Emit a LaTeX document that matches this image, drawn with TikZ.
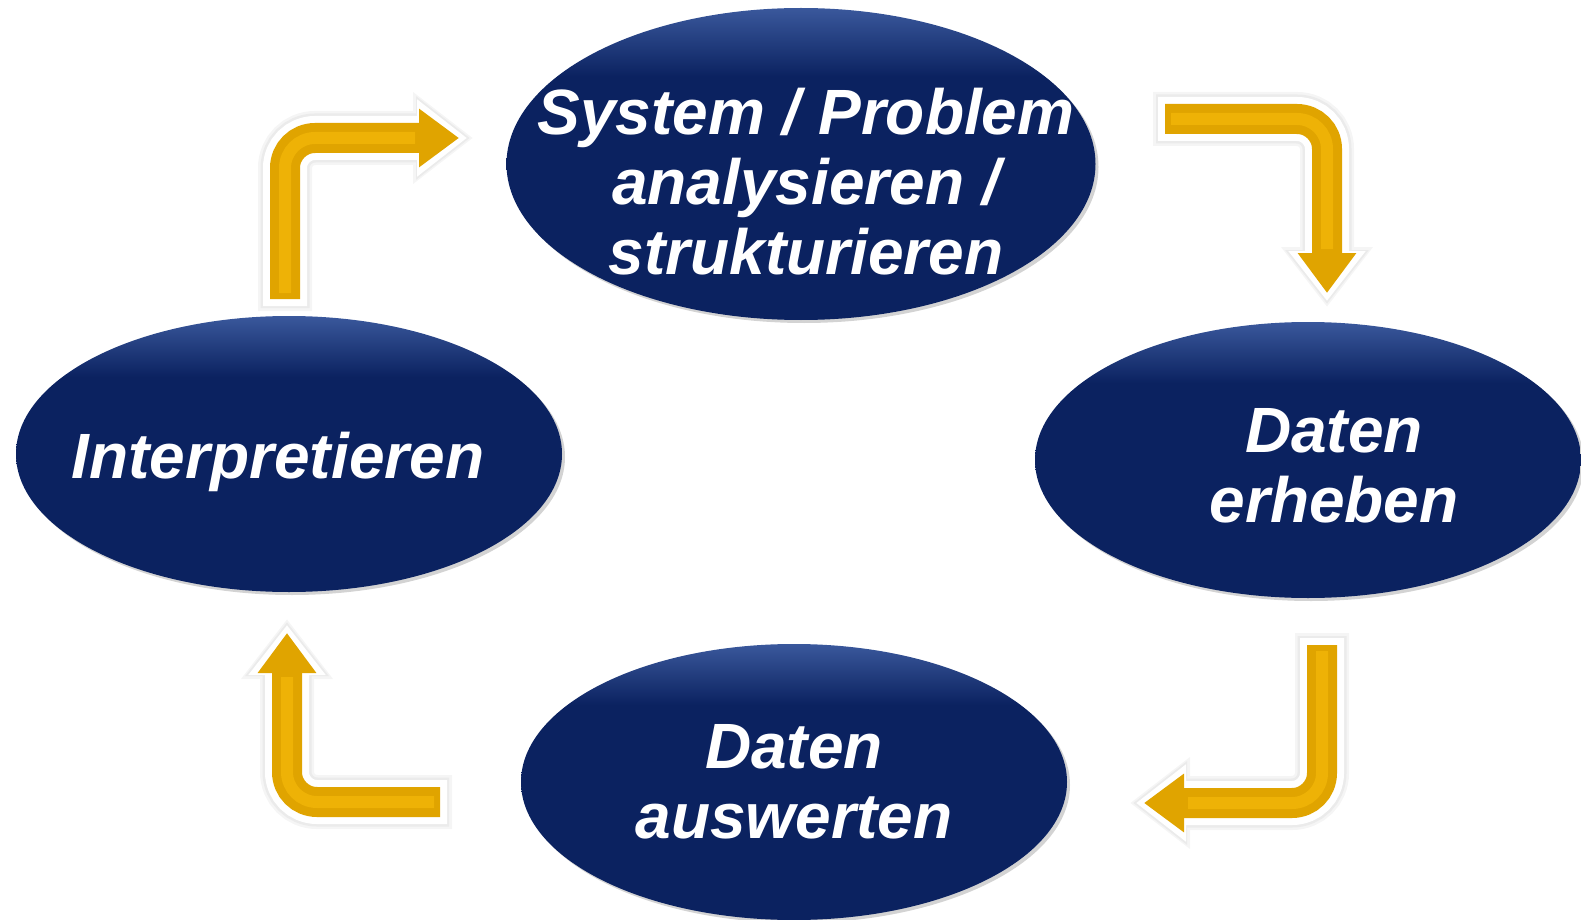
\documentclass[tikz,border=0pt]{standalone}
\usepackage{fontspec}
\setmainfont{Liberation Sans}
\usetikzlibrary{shapes.geometric,arrows.meta,shadows}

\definecolor{navy}{RGB}{11,34,96}
\definecolor{navyhi}{RGB}{58,88,156}
\definecolor{gold}{RGB}{224,164,0}
\definecolor{goldhi}{RGB}{238,178,6}

% mostly flat navy, lighter only near the top rim
\pgfdeclareverticalshading{phaseshade}{100bp}{color(0bp)=(navy); color(25bp)=(navy);
  color(64bp)=(navy); color(75bp)=(navyhi); color(100bp)=(navyhi)}

\tikzset{
  phase/.style={ellipse, inner sep=0pt, minimum width=273pt, minimum height=138pt,
    shading=phaseshade,
    drop shadow={opacity=0.35, shadow xshift=1.5pt, shadow yshift=-1.5pt}},
  phasetext/.style={text=white, align=center, inner sep=0pt,
    font=\fontsize{32}{35}\selectfont\bfseries\itshape},
  cyclearrow/.style={draw=gold, line width=15pt, rounded corners=15pt,
    -{Triangle[width=28pt,length=20pt]},
    preaction={draw=black!4, line width=27pt, shorten <=-6pt, shorten >=-7pt,
      -{Triangle[width=44pt,length=30pt]}},
    preaction={draw=black!8, line width=24.5pt, shorten <=-4.5pt, shorten >=-5.5pt,
      -{Triangle[width=40pt,length=27pt]}},
    preaction={draw=white, line width=22pt, shorten <=-3.5pt, shorten >=-4pt,
      -{Triangle[width=37pt,length=25pt]}},
    postaction={draw=goldhi, line width=6pt, -, shorten <=3pt, shorten >=22pt}}
}

\begin{document}
\begin{tikzpicture}[x=0.5pt,y=-0.5pt]
  \useasboundingbox (0,0) rectangle (1581,920);

  % the four steps of the cycle
  \node[phase, minimum width=294.5pt, minimum height=156pt] (analyse) at (801,164) {};
  \node[phase] (erheben) at (1308,460) {};
  \node[phase] (auswerten) at (794,782) {};
  \node[phase] (interpret) at (289,454) {};

  \node[phasetext] (analysetext) at (806,182) {System / Problem\\analysieren /\\strukturieren};
  \node[phasetext] (erhebentext) at (1334,466) {Daten\\erheben};
  \node[phasetext] (auswertentext) at (794,782) {Daten\\auswerten};
  \node[phasetext] (interprettext) at (278,462) {Interpretieren};

  % elbow arrows between the steps
  \coordinate (a0) at (285,299);  \coordinate (a1) at (285,138);  \coordinate (a2) at (459,138);
  \coordinate (b0) at (1165,119); \coordinate (b1) at (1327,119); \coordinate (b2) at (1327,293);
  \coordinate (c0) at (1322,645); \coordinate (c1) at (1322,803); \coordinate (c2) at (1144,803);
  \coordinate (d0) at (440,802);  \coordinate (d1) at (287,802);  \coordinate (d2) at (287,633);

  \draw[cyclearrow] (a0) -- (a1) -- (a2);
  \draw[cyclearrow] (b0) -- (b1) -- (b2);
  \draw[cyclearrow] (c0) -- (c1) -- (c2);
  \draw[cyclearrow] (d0) -- (d1) -- (d2);
\end{tikzpicture}
\end{document}
